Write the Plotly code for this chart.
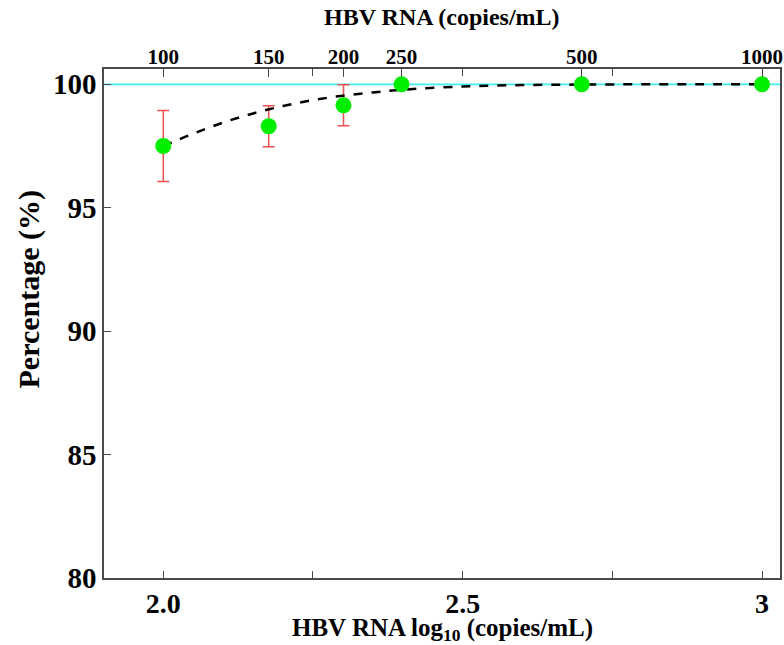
import numpy as np
import plotly.graph_objects as go

# Data
conc = [100, 150, 200, 250, 500, 1000]              # copies/mL
pct = [97.5, 98.3, 99.15, 100.0, 100.0, 100.0]      # detection rate %
err = [1.44, 0.83, 0.83, 0.0, 0.0, 0.0]             # error bar half widths

fit_x = [2.0, 2.05, 2.1, 2.15, 2.2, 2.25, 2.3, 2.35, 2.4, 2.5, 2.6, 2.7, 2.8, 2.9, 3.0]
fit_y = [97.5, 98.0, 98.45, 98.82, 99.12, 99.36, 99.54, 99.67, 99.78, 99.91, 99.97, 99.99, 100.0, 100.0, 100.0]

top_ticks = [100, 150, 200, 250, 500, 1000]
bottom_tickvals = [2.0, 2.25, 2.5, 2.75, 3.0]
bottom_ticktext = ["2.0", "", "2.5", "", "3"]
y_ticks = [80, 85, 90, 95, 100]

logx = [float(np.log10(c)) for c in conc]
XR = [1.901, 3.03]
font = "Liberation Serif"
axcol = "#4a4a4a"

fig = go.Figure()
fig.add_trace(go.Scatter(x=XR, y=[100, 100], mode="lines",
                         line=dict(color="#40f0f0", width=1.8), hoverinfo="skip"))
fig.add_trace(go.Scatter(x=logx, y=pct, mode="markers",
                         marker=dict(color="rgba(0,0,0,0)", size=1),
                         error_y=dict(type="data", array=err, color="#f05050", thickness=1.5, width=6),
                         hoverinfo="skip"))
fig.add_trace(go.Scatter(x=fit_x, y=fit_y, mode="lines", line=dict(color="black", width=2.5, dash="dash", shape="spline")))
fig.add_trace(go.Scatter(x=logx, y=pct, mode="markers",
                         marker=dict(color="#00ee00", size=16, line=dict(width=0))))
# invisible trace for top axis
fig.add_trace(go.Scatter(x=logx, y=pct, xaxis="x2", mode="markers",
                         marker=dict(opacity=0), hoverinfo="skip"))

fig.update_layout(
    width=784, height=645,
    margin=dict(l=104, r=4, t=69, b=67),
    plot_bgcolor="white", paper_bgcolor="white",
    showlegend=False,
    font=dict(family=font, color="black"),
    xaxis=dict(range=XR, tickvals=bottom_tickvals, ticktext=bottom_ticktext,
               ticks="inside", ticklen=7, tickwidth=1.3, tickcolor=axcol,
               showline=True, linecolor=axcol, linewidth=1.5, mirror="ticks",
               showgrid=False, zeroline=False, automargin=False,
               tickfont=dict(size=28, family=font, weight="bold")),
    xaxis2=dict(range=XR, overlaying="x", side="top",
                tickvals=logx, ticktext=[str(t) for t in top_ticks],
                ticks="inside", ticklen=8, tickwidth=1.3, tickcolor=axcol,
                showgrid=False, zeroline=False, showline=False, automargin=False,
                tickfont=dict(size=21, family=font, weight="bold")),
    yaxis=dict(range=[80, 100.62], tickvals=y_ticks,
               ticks="inside", ticklen=7, tickwidth=1.3, tickcolor=axcol,
               showline=True, linecolor=axcol, linewidth=1.5, mirror=True,
               showgrid=False, zeroline=False, automargin=False,
               tickfont=dict(size=29, family=font, weight="bold")),
    annotations=[
        dict(text="HBV RNA log<sub>10</sub> (copies/mL)", xref="paper", yref="paper",
             x=0.5, y=0, xanchor="center", yanchor="middle", yshift=-51, showarrow=False,
             font=dict(size=25, family=font, weight="bold")),
        dict(text="HBV RNA (copies/mL)", xref="paper", yref="paper",
             x=0.5, y=1, xanchor="center", yanchor="middle", yshift=52, showarrow=False,
             font=dict(size=24, family=font, weight="bold")),
        dict(text="Percentage (%)", xref="paper", yref="paper", textangle=-90,
             x=0, y=0.5, xanchor="center", yanchor="middle", xshift=-76, yshift=34, showarrow=False,
             font=dict(size=30, family=font, weight="bold")),
    ],
)
fig.write_html("out.html", config={"displayModeBar": False},
               post_script="document.body.style.margin='0';window.dispatchEvent(new Event('resize'));")
